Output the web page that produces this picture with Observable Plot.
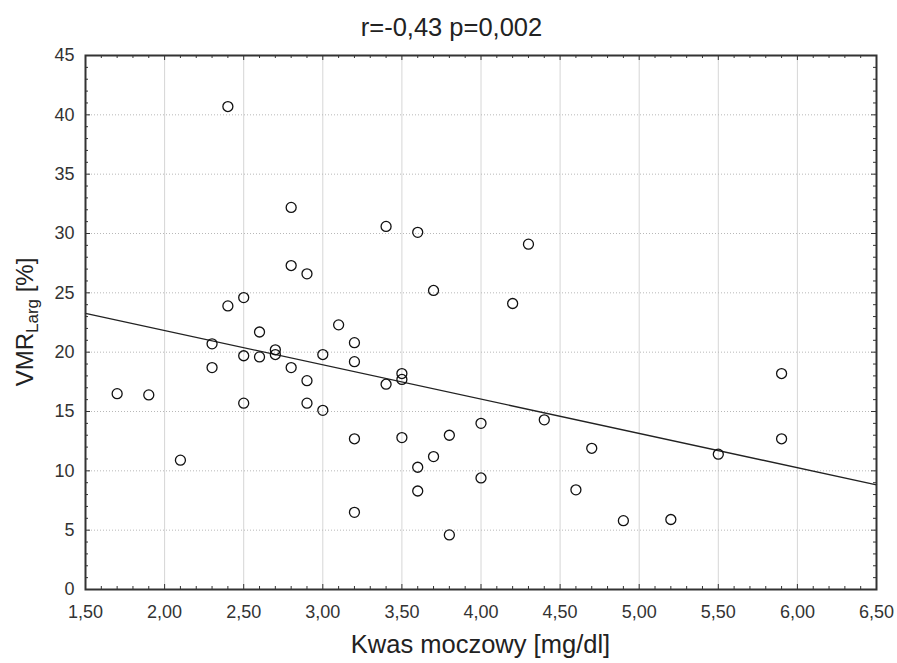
<!DOCTYPE html>
<html>
<head>
<meta charset="utf-8">
<script src="https://cdn.jsdelivr.net/npm/d3@7"></script>
<script src="https://cdn.jsdelivr.net/npm/@observablehq/plot@0.6"></script>
<style>
  html, body { margin: 0; padding: 0; background: #fff; }
  #chart svg { display: block; }
</style>
</head>
<body>
<div id="chart"></div>
<script>
// ---- data ----
const uricAcid = [
  1.7, 1.9, 2.1, 2.3, 2.3, 2.4, 2.4, 2.5, 2.5, 2.5,
  2.6, 2.6, 2.7, 2.7, 2.8, 2.8, 2.8, 2.9, 2.9, 2.9,
  3.0, 3.0, 3.1, 3.2, 3.2, 3.2, 3.2, 3.4, 3.4, 3.5,
  3.5, 3.5, 3.6, 3.6, 3.6, 3.7, 3.7, 3.8, 3.8, 4.0,
  4.0, 4.2, 4.3, 4.4, 4.6, 4.7, 4.9, 5.2, 5.5, 5.9, 5.9
];
const vmrLarg = [
  16.5, 16.4, 10.9, 20.7, 18.7, 40.7, 23.9, 24.6, 19.7, 15.7,
  21.7, 19.6, 20.2, 19.8, 32.2, 27.3, 18.7, 26.6, 17.6, 15.7,
  19.8, 15.1, 22.3, 20.8, 19.2, 12.7, 6.5, 30.6, 17.3, 18.2,
  17.7, 12.8, 30.1, 10.3, 8.3, 25.2, 11.2, 13.0, 4.6, 14.0,
  9.4, 24.1, 29.1, 14.3, 8.4, 11.9, 5.8, 5.9, 11.4, 18.2, 12.7
];
const xTicks = [1.5, 2.0, 2.5, 3.0, 3.5, 4.0, 4.5, 5.0, 5.5, 6.0, 6.5];
const yTicks = [0, 5, 10, 15, 20, 25, 30, 35, 40, 45];
const titleText = "r=-0,43 p=0,002";
const xLabel = "Kwas moczowy [mg/dl]";
const yLabelMain = "VMR";
const yLabelSub = "Larg";
const yLabelUnit = " [%]";

// ---- derived ----
const points = uricAcid.map((x, i) => ({x, y: vmrLarg[i]}));
const mx = d3.mean(uricAcid), my = d3.mean(vmrLarg);
const slope = d3.sum(points, d => (d.x - mx) * (d.y - my)) / d3.sum(points, d => (d.x - mx) ** 2);
const intercept = my - slope * mx;
const xDomain = [xTicks[0], xTicks[xTicks.length - 1]];
const yDomain = [yTicks[0], yTicks[yTicks.length - 1]];
const fitLine = xDomain.map(x => ({x, y: intercept + slope * x}));

const xMinor = d3.range(Math.round(xDomain[0] * 10), Math.round(xDomain[1] * 10) + 1)
  .map(i => i / 10).filter(v => !xTicks.some(t => Math.abs(t - v) < 1e-9));
const yMinor = d3.range(yDomain[0], yDomain[1] + 1).filter(v => !yTicks.includes(v));
const xInner = xTicks.slice(1, -1);
const yInner = yTicks.slice(1, -1);

const W = 897, H = 663;
const mT = 55, mB = 74, mL = 85, mR = 21;
const innerH = H - mT - mB, innerW = W - mL - mR;
const fmt = d => d.toFixed(2).replace(".", ",");
const ink = "#333";
const majorLen = 5, minorLen = 3;

const chart = Plot.plot({
  width: W, height: H,
  marginTop: mT, marginBottom: mB, marginLeft: mL, marginRight: mR,
  style: {fontFamily: "Arial, 'Liberation Sans', sans-serif", background: "#fff", color: ink},
  x: {domain: xDomain, label: null},
  y: {domain: yDomain, label: null},
  marks: [
    Plot.ruleX(xInner, {x: d => d, stroke: "#d6d6d6", strokeWidth: 1}),
    Plot.ruleY(yInner, {y: d => d, stroke: "#b8b8b8", strokeWidth: 1, strokeDasharray: "1,2"}),
    // inward tick marks on all four sides
    Plot.tickX(xMinor, {x: d => d, insetTop: innerH - minorLen, stroke: ink}),
    Plot.tickX(xTicks, {x: d => d, insetTop: innerH - majorLen, stroke: ink}),
    Plot.tickX(xMinor, {x: d => d, insetBottom: innerH - minorLen, stroke: ink}),
    Plot.tickX(xTicks, {x: d => d, insetBottom: innerH - majorLen, stroke: ink}),
    Plot.tickY(yMinor, {y: d => d, insetRight: innerW - minorLen, stroke: ink}),
    Plot.tickY(yTicks, {y: d => d, insetRight: innerW - majorLen, stroke: ink}),
    Plot.tickY(yMinor, {y: d => d, insetLeft: innerW - minorLen, stroke: ink}),
    Plot.tickY(yTicks, {y: d => d, insetLeft: innerW - majorLen, stroke: ink}),
    Plot.line(fitLine, {x: "x", y: "y", stroke: "#222", strokeWidth: 1.3}),
    Plot.dot(points, {x: "x", y: "y", r: 5, stroke: "#111", strokeWidth: 1.3, fill: "none"}),
    Plot.frame({stroke: ink, strokeWidth: 2}),
    Plot.axisX({ticks: xTicks, tickFormat: fmt, tickSize: 0, tickPadding: 16, fontSize: 18, label: null}),
    Plot.axisY({ticks: yTicks, tickSize: 0, tickPadding: 11, fontSize: 18, label: null})
  ]
});

document.getElementById("chart").appendChild(chart);

const svg = d3.select(chart);
const font = "Arial, 'Liberation Sans', sans-serif";
svg.append("text")
  .attr("x", W / 2 + 3).attr("y", 36)
  .attr("text-anchor", "middle")
  .attr("font-family", font).attr("font-size", 25.5).attr("fill", "#222")
  .text(titleText);
svg.append("text")
  .attr("x", mL + innerW / 2).attr("y", 653)
  .attr("text-anchor", "middle")
  .attr("font-family", font).attr("font-size", 25.5).attr("fill", "#222")
  .text(xLabel);
const yl = svg.append("text")
  .attr("transform", `translate(33,${mT + innerH / 2}) rotate(-90)`)
  .attr("text-anchor", "middle")
  .attr("font-family", font).attr("font-size", 24).attr("fill", "#222");
yl.append("tspan").text(yLabelMain);
yl.append("tspan").attr("font-size", 17).attr("dy", 5).text(yLabelSub);
yl.append("tspan").attr("dy", -5).text(yLabelUnit);
</script>
</body>
</html>
